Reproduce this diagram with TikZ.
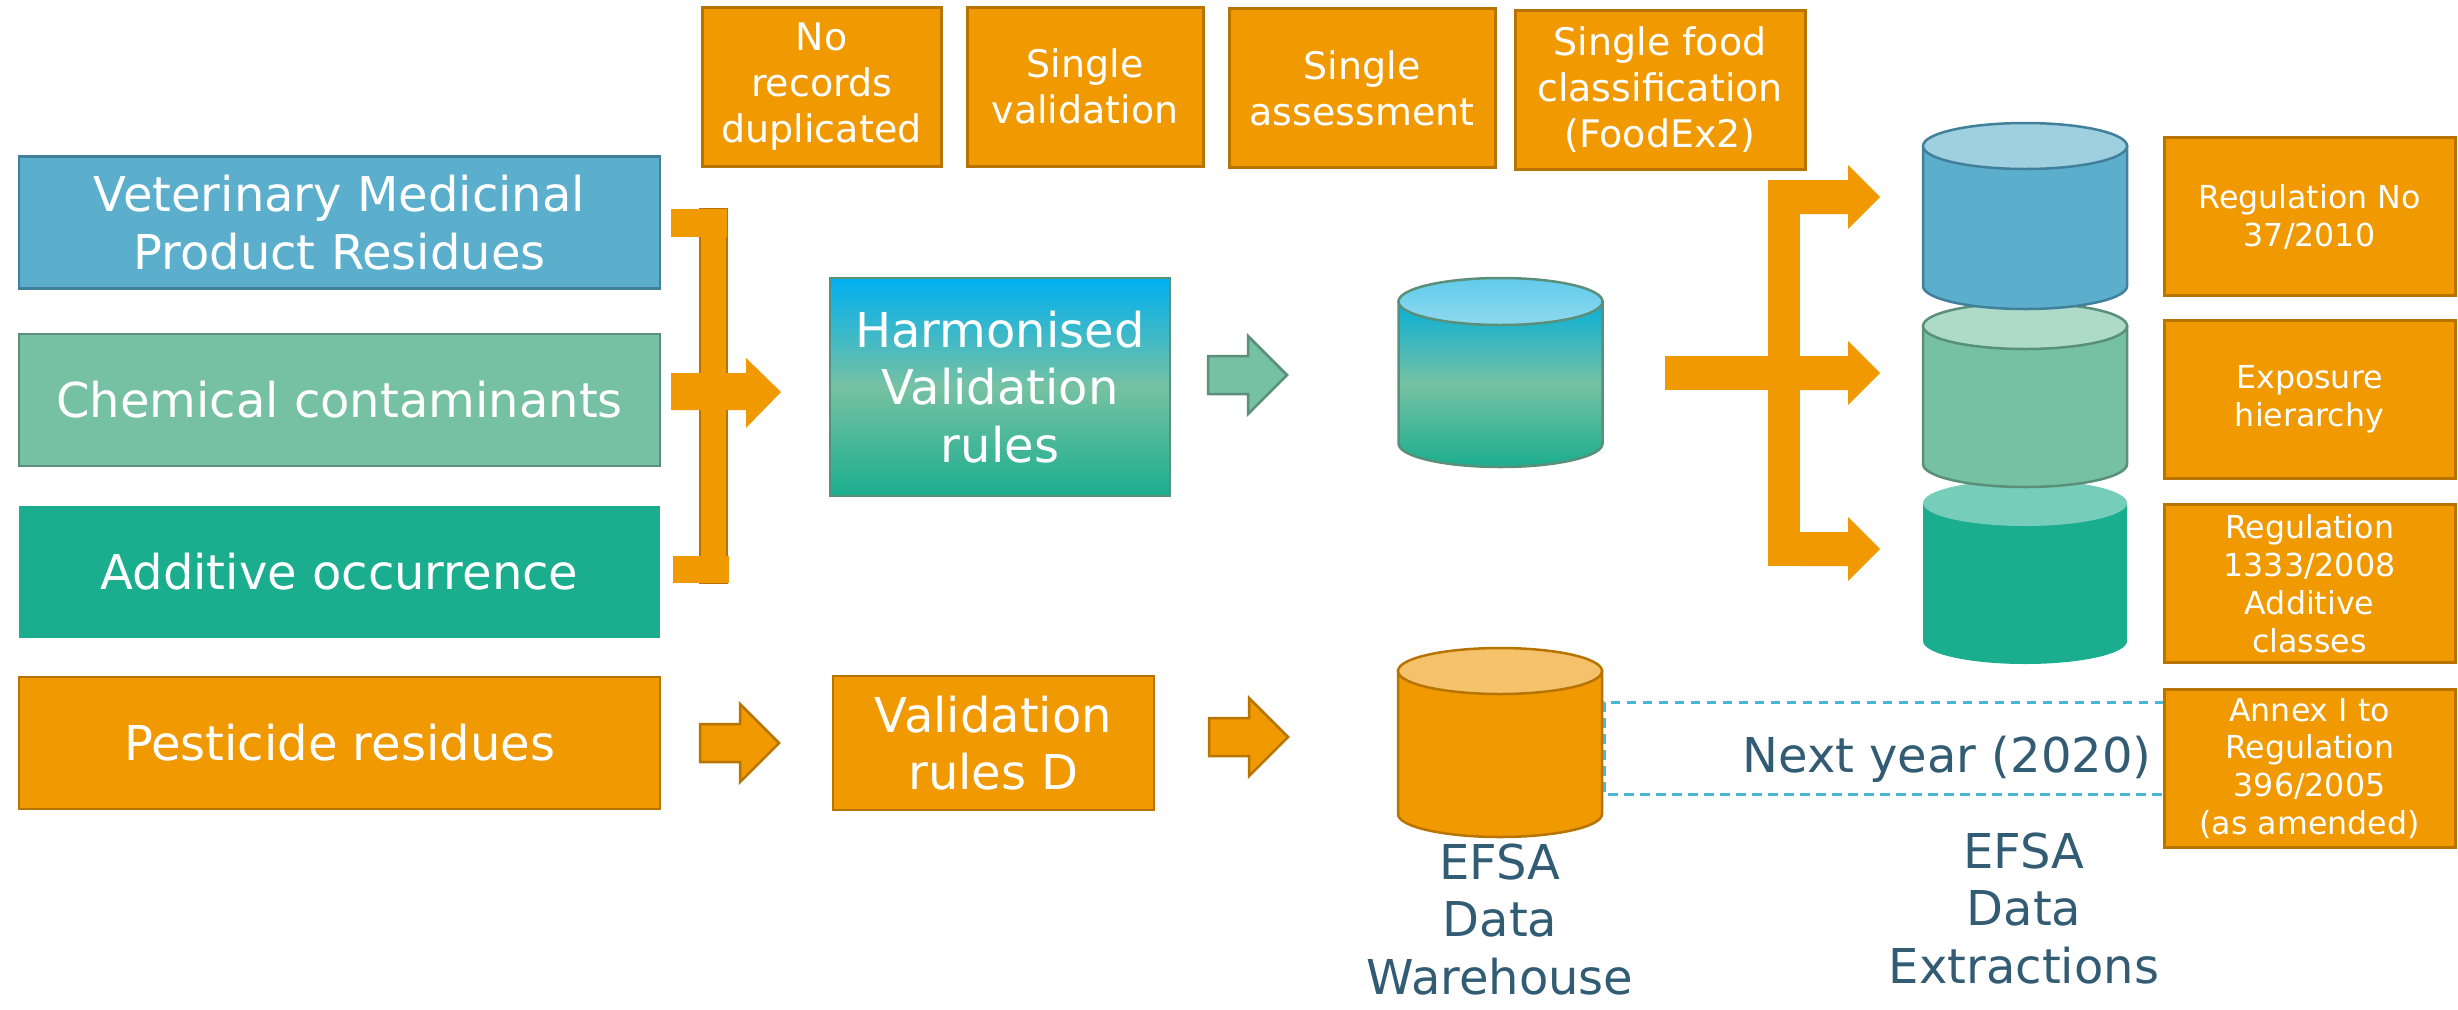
\documentclass[tikz,border=0pt]{standalone}
\usepackage{fontspec}
\setmainfont{DejaVu Sans}
\usetikzlibrary{positioning}

\definecolor{vetblue}{HTML}{5BAFCC}
\definecolor{vetblueline}{HTML}{41809A}
\definecolor{vetlid}{HTML}{9FD0DF}
\definecolor{chemgreen}{HTML}{76C1A3}
\definecolor{chemgreenline}{HTML}{5A8F7A}
\definecolor{chemlid}{HTML}{ADDBC8}
\definecolor{addteal}{HTML}{1BAE8E}
\definecolor{addlid}{HTML}{76CDB9}
\definecolor{harmcyan}{HTML}{00B0F0}
\definecolor{harmlid}{HTML}{72D0EA}
\definecolor{efsaorange}{HTML}{F09900}
\definecolor{efsaorangeline}{HTML}{B87400}
\definecolor{orangelid}{HTML}{F5C26B}
\definecolor{dashblue}{HTML}{4BB5D8}
\definecolor{labelblue}{HTML}{325B74}

\tikzset{
  bigtext/.style={font=\fontsize{13.66pt}{16.4pt}\selectfont, text=white, align=center},
  srcbox/.style={rectangle, bigtext, minimum width=64.1mm, minimum height=13.2mm, inner sep=0pt, line width=0.25mm},
  topbox/.style={rectangle, fill=efsaorange, draw=efsaorangeline, line width=0.3mm, text=white, align=center,
    font=\fontsize{10.8pt}{13pt}\selectfont, minimum height=15.9mm, inner sep=0pt},
  regbox/.style={rectangle, fill=efsaorange, draw=efsaorangeline, line width=0.3mm, text=white, align=center,
    font=\fontsize{9pt}{10.8pt}\selectfont, minimum width=29.1mm, minimum height=15.8mm, inner sep=0pt},
  dwlabel/.style={text=labelblue, align=center, font=\fontsize{13.66pt}{16.4pt}\selectfont, inner sep=0pt},
  dashline/.style={draw=dashblue, line width=0.3mm, dash pattern=on 0.95mm off 0.65mm},
  smallarrow/.pic={
    \path[pic actions] (-79,-19) -- (-39,-19) -- (-39,-39) -- (0,0) -- (-39,39) -- (-39,19) -- (-79,19) -- cycle;
  }
}

% cylinder: centre x, lid centre y, bottom centre y, body, lid, outline
\newcommand{\dbcyl}[6]{%
  \path[fill=#4, draw=#6, line width=0.25mm] (#1-102,#2) -- (#1-102,#3)
    arc[start angle=180, end angle=0, x radius=102, y radius=23] -- (#1+102,#2) -- cycle;
  \path[fill=#5, draw=#6, line width=0.25mm] (#1,#2) ellipse [x radius=102, y radius=23];
}

\begin{document}
\begin{tikzpicture}[x=0.1mm, y=-0.1mm]
\useasboundingbox (0,0) rectangle (2458,1009);

% data collections
\node[srcbox, fill=vetblue, draw=vetblueline] (vmpr) at (339.5,222.5) {Veterinary Medicinal\\Product Residues};
\node[srcbox, fill=chemgreen, draw=chemgreenline] (chem) at (339.5,400) {Chemical contaminants};
\node[srcbox, fill=addteal] (addit) at (339.5,572) {Additive occurrence};
\node[srcbox, fill=efsaorange, draw=efsaorangeline] (pest) at (339.5,743) {Pesticide residues};

% benefits
\node[topbox, minimum width=23.9mm] (nodup) at (821.5,86.5) {No\\records\\duplicated};
\node[topbox, minimum width=23.6mm] (singval) at (1085,86.5) {Single\\validation};
\node[topbox, minimum width=26.6mm] (singass) at (1362,88) {Single\\assessment};
\node[topbox, minimum width=29mm] (singfood) at (1660,89.5) {Single food\\classification\\(FoodEx2)};

% validation
\node[bigtext, minimum width=34mm, minimum height=21.8mm, inner sep=0pt, line width=0.25mm, draw=chemgreenline,
  top color=harmcyan, bottom color=addteal, middle color=chemgreen] (harm) at (1000,387) {Harmonised\\Validation\\rules};
\node[srcbox, minimum width=32.1mm, minimum height=13.4mm, fill=efsaorange, draw=efsaorangeline] (valD) at (993.5,743) {Validation\\rules D};

% bracket into harmonised rules
\path[fill=efsaorange, draw=efsaorangeline, line width=0.15mm] (700,209) rectangle (727,583);
\fill[efsaorange] (671,209) rectangle (727,237);
\fill[efsaorange] (673,556) rectangle (729,583);
\fill[efsaorange] (671,373) -- (746,373) -- (746,358) -- (781,392) -- (746,428) -- (746,410) -- (671,410) -- cycle;

% small arrows
\pic[fill=chemgreen, draw=chemgreenline, line width=0.25mm] (harmarrow) at (1287,375) {smallarrow};
\pic[fill=efsaorange, draw=efsaorangeline, line width=0.25mm] (pestarrow) at (779,743) {smallarrow};
\pic[fill=efsaorange, draw=efsaorangeline, line width=0.25mm] (valarrow) at (1288,737) {smallarrow};

% data warehouse
\path[draw=chemgreenline, line width=0.25mm, top color=harmcyan!75!addteal, bottom color=addteal, middle color=chemgreen]
  (1398.5,301.5) -- (1398.5,443.5) arc[start angle=180, end angle=0, x radius=102, y radius=23.5] -- (1602.5,301.5) -- cycle;
\path[draw=chemgreenline, line width=0.25mm, top color=harmlid!85!harmcyan, bottom color=harmlid!80!white]
  (1500.5,301.5) ellipse [x radius=102, y radius=23.5];
\dbcyl{1500}{671}{814}{efsaorange}{orangelid}{efsaorangeline}
\path[dashline] (2164,702) -- (1604,702) -- (1604,794) -- (2164,794);

% fork to extractions
\fill[efsaorange] (1665,356) rectangle (1768,390);
\fill[efsaorange] (1768,180) rectangle (1800,566);
\fill[efsaorange] (1800,180) -- (1848,180) -- (1848,165) -- (1880,197) -- (1848,229) -- (1848,214) -- (1800,214) -- cycle;
\fill[efsaorange] (1800,356) -- (1848,356) -- (1848,341) -- (1880,373) -- (1848,405) -- (1848,390) -- (1800,390) -- cycle;
\fill[efsaorange] (1800,532) -- (1848,532) -- (1848,517) -- (1880,549) -- (1848,581) -- (1848,566) -- (1800,566) -- cycle;

% extractions
\dbcyl{2025}{503}{641}{addteal}{addlid}{none}
\dbcyl{2025}{326}{464}{chemgreen}{chemlid}{chemgreenline}
\dbcyl{2025}{146}{286}{vetblue}{vetlid}{vetblueline}

% legislation
\node[regbox] (reg37) at (2309.5,216.5) {Regulation No\\37/2010};
\node[regbox, below=2.2mm of reg37] (expo) {Exposure\\hierarchy};
\node[regbox, below=2.3mm of expo] (reg1333) {Regulation\\1333/2008\\Additive\\classes};
\node[regbox, below=2.4mm of reg1333] (annex) {Annex I to\\Regulation\\396/2005\\(as amended)};

% labels
\node[dwlabel, anchor=base] (nextyear) at (1947,772) {Next year (2020)};
\node[dwlabel, anchor=north] (dwh) at (1500,843) {EFSA\\Data\\Warehouse};
\node[dwlabel, anchor=north] (dext) at (2024,832) {EFSA\\Data\\Extractions};
\end{tikzpicture}
\end{document}
